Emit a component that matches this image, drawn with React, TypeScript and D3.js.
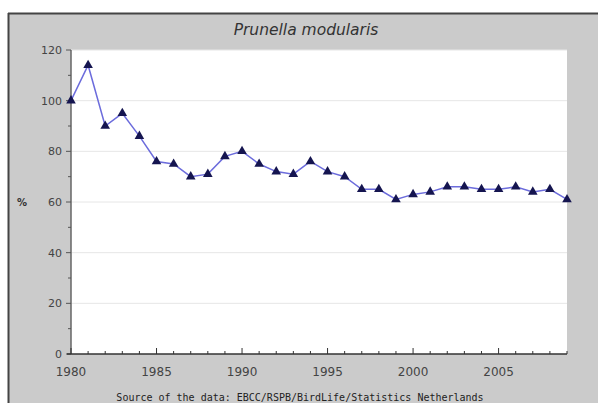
import React from "react";
import * as d3 from "d3";

const years = [1980,1981,1982,1983,1984,1985,1986,1987,1988,1989,1990,1991,1992,1993,1994,1995,1996,1997,1998,1999,2000,2001,2002,2003,2004,2005,2006,2007,2008,2009];
const values = [100,114,90,95,86,76,75,70,71,78,80,75,72,71,76,72,70,65,65,61,63,64,66,66,65,65,66,64,65,61];
const yTicks = [0,20,40,60,80,100,120];
const xTickLabels = [1980,1985,1990,1995,2000,2005];
const title = "Prunella modularis";
const yLabel = "%";
const source = "Source of the data: EBCC/RSPB/BirdLife/Statistics Netherlands";

export default function App() {
  const W = 598, H = 403;
  const left = 71, right = 567, top = 50, bottom = 354;
  const x = d3.scaleLinear().domain([1980, 2009]).range([left, right]);
  const y = d3.scaleLinear().domain([0, 120]).range([bottom, top]);
  const line = d3.line<number>().x((_, i) => x(years[i])).y(d => y(d));
  const tri = d3.symbol().type(d3.symbolTriangle).size(40)();
  const minorY = d3.range(10, 120, 20);
  const font = "'DejaVu Sans', sans-serif";
  return (
    <svg width={W} height={H} style={{ position: "absolute", left: 0, top: 0, display: "block" }}>
      <rect x={0} y={0} width={W} height={H} fill="#ffffff" />
      <rect x={8} y={13} width={W - 8} height={H - 13} fill="#cbcbcb" />
      <line x1={8} y1={13.5} x2={W} y2={13.5} stroke="#444" strokeWidth={2} />
      <line x1={8.5} y1={13} x2={8.5} y2={H} stroke="#444" strokeWidth={2} />
      <text x={306} y={35} textAnchor="middle" fontFamily={font} fontStyle="italic" fontSize={15.5} fill="#333">{title}</text>
      <rect x={left} y={top} width={right - left} height={bottom - top} fill="#ffffff" />
      {yTicks.filter(t => t > 0).map(t => (
        <line key={"g" + t} x1={left} x2={right} y1={y(t)} y2={y(t)} stroke="#e6e6e6" strokeWidth={1} />
      ))}
      <line x1={left} x2={left} y1={top} y2={bottom} stroke="#666" strokeWidth={1.5} />
      {yTicks.map(t => (
        <g key={"yt" + t}>
          <line x1={left - 5} x2={left} y1={y(t)} y2={y(t)} stroke="#555" />
          <text x={left - 9} y={y(t) + 4} textAnchor="end" fontFamily={font} fontSize={11} fill="#444">{t}</text>
        </g>
      ))}
      {minorY.map(t => (
        <line key={"ym" + t} x1={left - 3} x2={left} y1={y(t)} y2={y(t)} stroke="#555" />
      ))}
      <line x1={left - 4} x2={right} y1={bottom} y2={bottom} stroke="#333" strokeWidth={1.5} />
      {years.map(yr => (
        <line key={"xt" + yr} x1={x(yr)} x2={x(yr)} y1={bottom} y2={bottom - (yr % 5 === 0 ? 6 : 3)} stroke="#333" />
      ))}
      {xTickLabels.map(yr => (
        <text key={"xl" + yr} x={x(yr)} y={bottom + 22} textAnchor="middle" fontFamily={font} fontSize={12} fill="#444">{yr}</text>
      ))}
      <text x={22} y={y(60) + 4} textAnchor="middle" fontFamily={font} fontWeight="bold" fontSize={10} fill="#333">{yLabel}</text>
      <path d={line(values) || ""} fill="none" stroke="#6c6cdc" strokeWidth={1.5} />
      {values.map((v, i) => (
        <path key={"m" + i} d={tri || ""} transform={`translate(${x(years[i])},${y(v)})`} fill="#151550" />
      ))}
      <text x={300} y={401} textAnchor="middle" fontFamily="'DejaVu Sans Mono', monospace" fontSize={10} fill="#222">{source}</text>
    </svg>
  );
}
